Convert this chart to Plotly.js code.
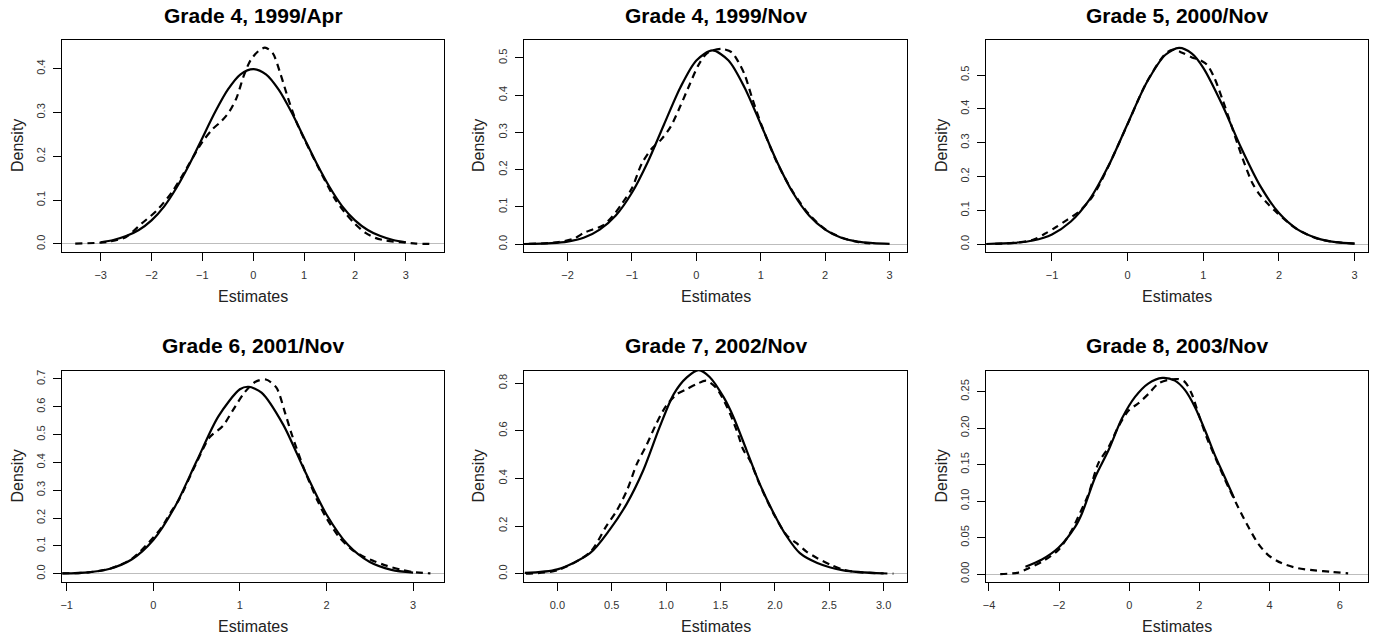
<!DOCTYPE html>
<html>
<head>
<meta charset="utf-8">
<script src="https://cdn.plot.ly/plotly-3.0.1.min.js"></script>
<style>html,body{margin:0;padding:0;background:#fff;}#chart{width:1376px;height:641px;}</style>
</head>
<body>
<div id="chart"></div>
<script>
// ---------- DATA ----------
const titles = ["Grade 4, 1999/Apr", "Grade 4, 1999/Nov", "Grade 5, 2000/Nov",
                "Grade 6, 2001/Nov", "Grade 7, 2002/Nov", "Grade 8, 2003/Nov"];
const xAxisLabel = "Estimates";
const yAxisLabel = "Density";

// Panel 1
const p1SolidX = [-3,-2.75,-2.5,-2.25,-2,-1.75,-1.5,-1.25,-1,-0.75,-0.5,-0.25,0,0.25,0.5,0.75,1,1.25,1.5,1.75,2,2.25,2.5,2.75,3];
const p1SolidY = [0.004,0.009,0.018,0.032,0.054,0.086,0.130,0.183,0.242,0.301,0.352,0.387,0.399,0.387,0.352,0.301,0.242,0.183,0.130,0.086,0.054,0.032,0.018,0.009,0.004];
const p1DashX = [-3.5,-3.0,-2.8,-2.5,-2.2,-1.9,-1.6,-1.4,-1.0,-0.8,-0.62,-0.47,-0.33,-0.18,-0.05,0.1,0.23,0.38,0.53,0.68,0.85,1.0,1.3,1.6,1.8,2.0,2.2,2.4,2.6,2.9,3.2,3.5];
const p1DashY = [0.001,0.003,0.006,0.016,0.046,0.076,0.118,0.155,0.233,0.262,0.281,0.302,0.333,0.386,0.42,0.44,0.448,0.436,0.39,0.334,0.278,0.24,0.17,0.104,0.072,0.046,0.026,0.014,0.008,0.004,0.001,0.0];
const p1XTicks = [-3,-2,-1,0,1,2,3];
const p1YTicks = [0,0.1,0.2,0.3,0.4];

// Panel 2
const p2SolidX = [-2.7,-2.25,-2,-1.75,-1.5,-1.25,-1,-0.75,-0.5,-0.25,0,0.25,0.5,0.75,1,1.25,1.5,1.75,2,2.25,2.5,2.75,3];
const p2SolidY = [0.0003,0.003,0.007,0.017,0.039,0.077,0.138,0.222,0.322,0.420,0.493,0.520,0.493,0.420,0.322,0.222,0.138,0.077,0.039,0.017,0.007,0.003,0.001];
const p2DashX = [-2.6,-2.2,-1.9,-1.75,-1.6,-1.45,-1.3,-1.15,-1.0,-0.85,-0.7,-0.55,-0.4,-0.25,-0.1,0.03,0.15,0.25,0.4,0.55,0.65,0.75,0.87,1.0,1.25,1.5,1.75,2.0,2.25,2.5,2.7];
const p2DashY = [0.001,0.004,0.015,0.03,0.04,0.05,0.075,0.11,0.15,0.215,0.255,0.28,0.315,0.37,0.43,0.48,0.51,0.52,0.524,0.515,0.49,0.455,0.39,0.325,0.22,0.14,0.08,0.04,0.018,0.006,0.002];
const p2XTicks = [-2,-1,0,1,2,3];
const p2YTicks = [0,0.1,0.2,0.3,0.4,0.5];

// Panel 3
const p3SolidX = [-1.87,-1.5,-1.25,-1,-0.75,-0.5,-0.25,0,0.25,0.5,0.68,0.85,1,1.25,1.5,1.75,2,2.25,2.5,2.75,3];
const p3SolidY = [0.0007,0.004,0.011,0.029,0.067,0.133,0.233,0.356,0.477,0.560,0.580,0.563,0.521,0.412,0.285,0.173,0.092,0.043,0.018,0.006,0.002];
const p3DashX = [-1.75,-1.5,-1.25,-1.1,-0.95,-0.8,-0.65,-0.5,-0.4,-0.25,0,0.25,0.5,0.6,0.72,0.85,0.95,1.05,1.15,1.25,1.35,1.45,1.55,1.65,1.75,1.85,1.95,2.1,2.25,2.5,2.75,3.0];
const p3DashY = [0.001,0.004,0.013,0.03,0.05,0.072,0.095,0.13,0.165,0.232,0.355,0.478,0.563,0.575,0.566,0.552,0.545,0.53,0.49,0.43,0.365,0.298,0.235,0.18,0.145,0.12,0.098,0.068,0.043,0.017,0.006,0.002];
const p3XTicks = [-1,0,1,2,3];
const p3YTicks = [0,0.1,0.2,0.3,0.4,0.5];

// Panel 4
const p4SolidX = [-1.05,-0.75,-0.5,-0.25,0,0.25,0.5,0.75,1,1.1,1.25,1.5,1.75,2,2.25,2.5,2.75,3];
const p4SolidY = [0.001,0.005,0.018,0.051,0.121,0.241,0.404,0.565,0.663,0.672,0.651,0.536,0.369,0.213,0.103,0.042,0.014,0.004];
const p4DashX = [-1.05,-0.75,-0.5,-0.25,0,0.1,0.2,0.3,0.5,0.65,0.8,0.92,1.05,1.18,1.3,1.42,1.52,1.6,1.75,1.9,2.0,2.15,2.3,2.45,2.55,2.7,2.85,3.0,3.2];
const p4DashY = [0.001,0.005,0.018,0.053,0.13,0.168,0.22,0.268,0.40,0.49,0.53,0.588,0.65,0.69,0.698,0.67,0.58,0.5,0.37,0.26,0.2,0.13,0.085,0.058,0.045,0.028,0.015,0.006,0.001];
const p4XTicks = [-1,0,1,2,3];
const p4YTicks = [0,0.1,0.2,0.3,0.4,0.5,0.6,0.7];

// Panel 5
const p5SolidX = [-0.3,0,0.3,0.48,0.64,0.79,0.94,1.07,1.19,1.3,1.4,1.53,1.62,1.74,1.86,1.99,2.11,2.23,2.39,2.63,3.0];
const p5SolidY = [0.003,0.018,0.086,0.184,0.295,0.434,0.615,0.754,0.824,0.855,0.826,0.74,0.657,0.518,0.378,0.253,0.156,0.086,0.045,0.014,0.001];
const p5DashX = [-0.29,0,0.3,0.45,0.54,0.64,0.73,0.82,0.91,1.0,1.1,1.19,1.28,1.37,1.46,1.56,1.65,1.71,1.77,1.86,1.99,2.11,2.2,2.29,2.39,2.51,2.63,2.75,3.09];
const p5DashY = [0.0,0.014,0.09,0.2,0.26,0.35,0.46,0.54,0.63,0.705,0.754,0.775,0.796,0.81,0.78,0.70,0.60,0.52,0.476,0.375,0.25,0.16,0.128,0.093,0.065,0.038,0.017,0.007,0.0];
const p5XTicks = [0,0.5,1,1.5,2,2.5,3];
const p5YTicks = [0,0.2,0.4,0.6,0.8];

// Panel 6
const p6SolidX = [-2.96,-2.49,-2.02,-1.54,-1.35,-0.97,-0.59,-0.21,0.17,0.54,0.94,1.3,1.59,1.87,2.16,2.44,2.72,2.99];
const p6SolidY = [0.01,0.02,0.036,0.065,0.083,0.133,0.17,0.213,0.243,0.261,0.2687,0.265,0.252,0.229,0.197,0.163,0.133,0.104];
const p6DashX = [-3.68,-3.16,-2.87,-2.49,-2.02,-1.64,-1.45,-1.16,-0.88,-0.59,-0.31,-0.02,0.26,0.55,0.83,1.11,1.4,1.59,1.78,1.97,2.2,2.44,2.73,3.1,3.39,3.67,3.96,4.34,4.81,5.29,5.76,6.24];
const p6DashY = [0.0,0.002,0.008,0.017,0.033,0.06,0.079,0.11,0.152,0.174,0.202,0.224,0.234,0.247,0.261,0.266,0.267,0.263,0.247,0.22,0.188,0.161,0.129,0.092,0.065,0.042,0.026,0.015,0.008,0.005,0.003,0.001];
const p6XTicks = [-4,-2,0,2,4,6];
const p6YTicks = [0,0.05,0.10,0.15,0.20,0.25];

// ---------- LAYOUT / STYLE ----------
const W = 1376, H = 641;
const colsPx = [[62,444],[524,907],[986,1368]];
const rowsPx = [[40,252],[371,582]];
const panels = [
  {sx:p1SolidX, sy:p1SolidY, dx:p1DashX, dy:p1DashY, xt:p1XTicks, yt:p1YTicks, xr:[-3.76,3.75],   yr:[-0.0183,0.4655], xf:'d',   yf:'.1f'},
  {sx:p2SolidX, sy:p2SolidY, dx:p2DashX, dy:p2DashY, xt:p2XTicks, yt:p2YTicks, xr:[-2.675,3.27],  yr:[-0.021,0.548],   xf:'d',   yf:'.1f'},
  {sx:p3SolidX, sy:p3SolidY, dx:p3DashX, dy:p3DashY, xt:p3XTicks, yt:p3YTicks, xr:[-1.872,3.177], yr:[-0.023,0.6035],  xf:'d',   yf:'.1f'},
  {sx:p4SolidX, sy:p4SolidY, dx:p4DashX, dy:p4DashY, xt:p4XTicks, yt:p4YTicks, xr:[-1.054,3.357], yr:[-0.0298,0.7287], xf:'d',   yf:'.1f'},
  {sx:p5SolidX, sy:p5SolidY, dx:p5DashX, dy:p5DashY, xt:p5XTicks, yt:p5YTicks, xr:[-0.307,3.215], yr:[-0.035,0.851],   xf:'.1f', yf:'.1f'},
  {sx:p6SolidX, sy:p6SolidY, dx:p6DashX, dy:p6DashY, xt:p6XTicks, yt:p6YTicks, xr:[-4.085,6.806], yr:[-0.0109,0.2782], xf:'d',   yf:'.2f'}
];

const FONT = '"Liberation Sans", Arial, Helvetica, sans-serif';
const traces = [];
const layout = {
  width: W, height: H,
  margin: {l:0, r:0, t:0, b:0},
  paper_bgcolor: '#fff', plot_bgcolor: '#fff',
  showlegend: false,
  font: {family: FONT, color: '#222'},
  annotations: []
};

panels.forEach((p, i) => {
  const n = i + 1;
  const col = colsPx[i % 3], row = rowsPx[Math.floor(i / 3)];
  const xa = n === 1 ? 'x' : 'x' + n;
  const ya = n === 1 ? 'y' : 'y' + n;
  traces.push({x: p.sx, y: p.sy, xaxis: xa, yaxis: ya, type: 'scatter', mode: 'lines',
    line: {color: '#000', width: 2.2, shape: 'spline', smoothing: 0.8}, hoverinfo: 'skip'});
  traces.push({x: p.dx, y: p.dy, xaxis: xa, yaxis: ya, type: 'scatter', mode: 'lines',
    line: {color: '#000', width: 2.2, dash: '7px,5px', shape: 'spline', smoothing: 0.8}, hoverinfo: 'skip'});

  layout['xaxis' + (n === 1 ? '' : n)] = {
    domain: [col[0] / W, col[1] / W], anchor: ya, range: p.xr,
    tickmode: 'array', tickvals: p.xt, tickformat: p.xf,
    showgrid: false, zeroline: false, showline: true, mirror: true,
    linecolor: '#000', linewidth: 1, ticks: 'outside', ticklen: 8, tickwidth: 1, tickcolor: '#000',
    ticklabelstandoff: 5, tickfont: {size: 11, color: '#333', family: FONT}
  };
  layout['yaxis' + (n === 1 ? '' : n)] = {
    domain: [1 - row[1] / H, 1 - row[0] / H], anchor: xa, range: p.yr,
    tickmode: 'array', tickvals: p.yt, tickformat: p.yf, tickangle: -90,
    showgrid: false, zeroline: true, zerolinecolor: '#bdbdbd', zerolinewidth: 1,
    showline: true, mirror: true,
    linecolor: '#000', linewidth: 1, ticks: 'outside', ticklen: 8, tickwidth: 1, tickcolor: '#000',
    ticklabelstandoff: 4, tickfont: {size: 11, color: '#333', family: FONT}
  };

  const cx = (col[0] + col[1]) / 2;
  const cy = (row[0] + row[1]) / 2;
  const titleY = i < 3 ? 15 : 345;
  const xTitleY = i < 3 ? 296 : 626;
  const yTitleX = [17, 478, 941][i % 3];
  layout.annotations.push({text: '<b>' + titles[i] + '</b>', xref: 'paper', yref: 'paper',
    x: cx / W, y: 1 - titleY / H, xanchor: 'center', yanchor: 'middle', showarrow: false,
    font: {size: 21, color: '#000', family: FONT}});
  layout.annotations.push({text: xAxisLabel, xref: 'paper', yref: 'paper',
    x: cx / W, y: 1 - xTitleY / H, xanchor: 'center', yanchor: 'middle', showarrow: false,
    font: {size: 16, color: '#222', family: FONT}});
  layout.annotations.push({text: yAxisLabel, xref: 'paper', yref: 'paper', textangle: -90,
    x: yTitleX / W, y: 1 - cy / H, xanchor: 'center', yanchor: 'middle', showarrow: false,
    font: {size: 16, color: '#222', family: FONT}});
});

Plotly.newPlot('chart', traces, layout, {staticPlot: true, displayModeBar: false});
</script>
</body>
</html>
